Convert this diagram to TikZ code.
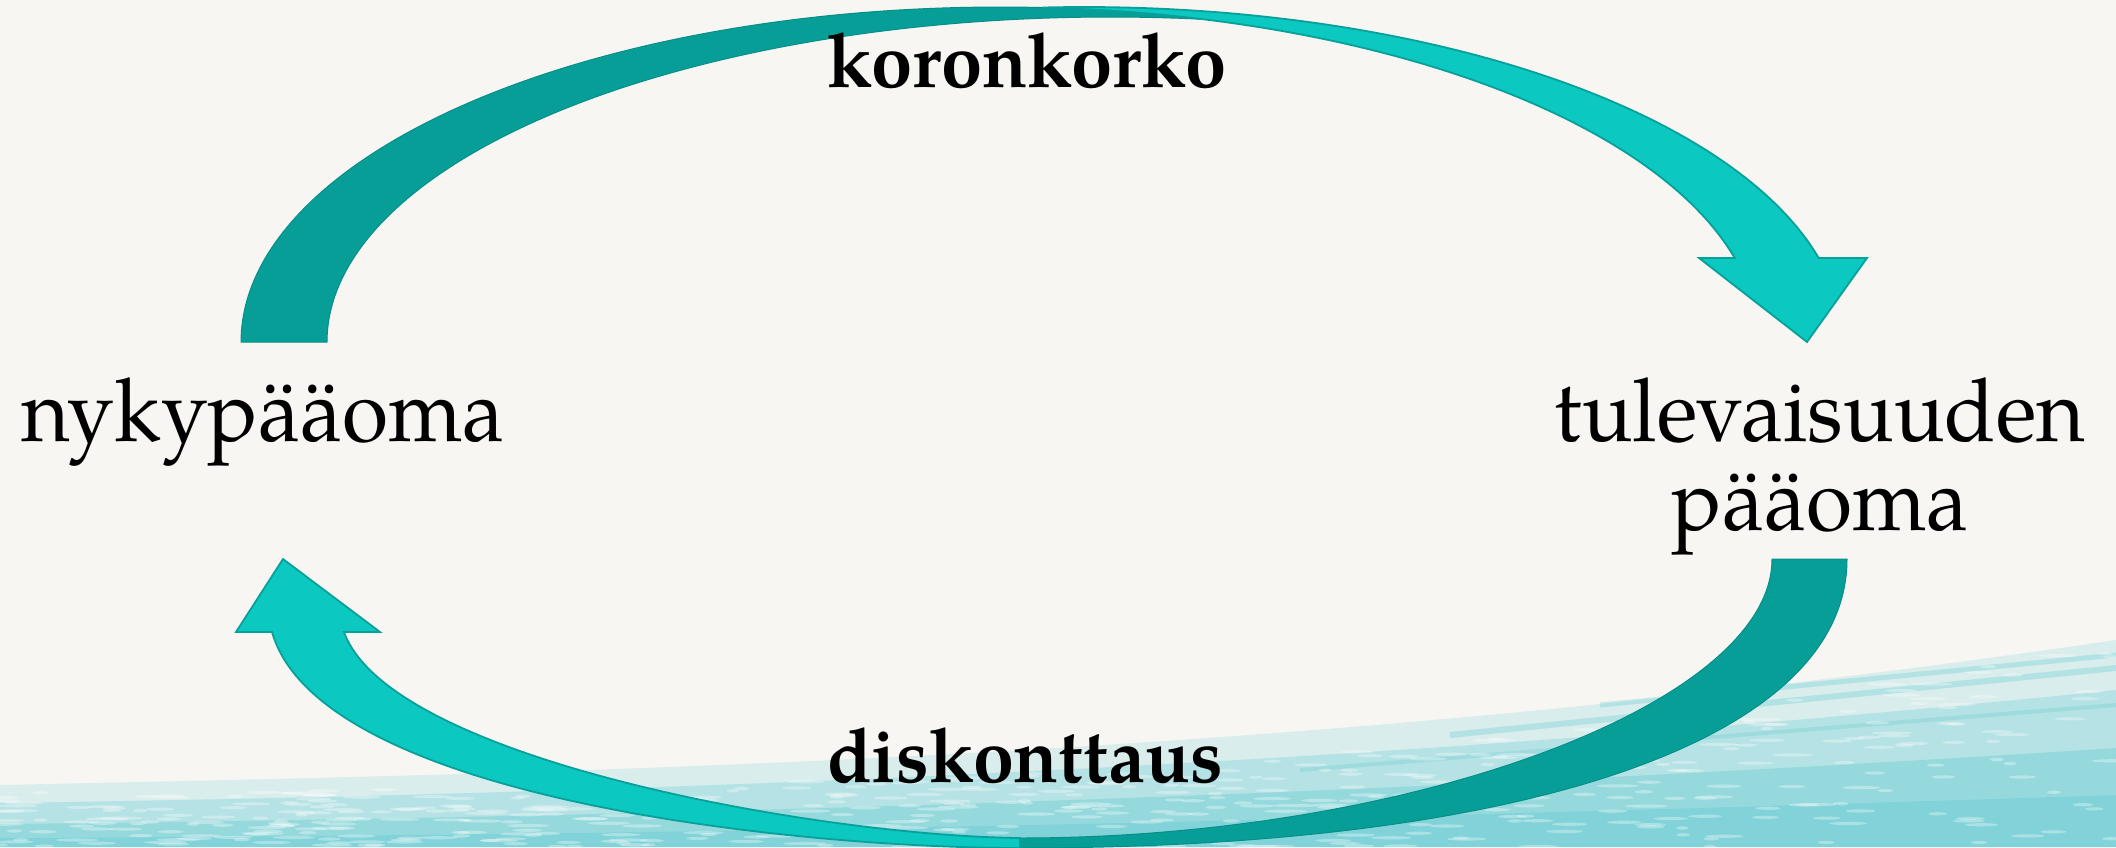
\documentclass[tikz,border=0pt]{standalone}
\usepackage{graphicx}
\usepackage{fontspec}
\setmainfont{texgyrepagella}[Extension=.otf,UprightFont=*-regular,BoldFont=*-bold]
\definecolor{paper}{HTML}{F8F6F3}
\definecolor{tealdark}{HTML}{089E98}
\definecolor{tealdarkline}{HTML}{078E89}
\definecolor{teallight}{HTML}{0BC8C0}
\definecolor{teallightline}{HTML}{08A09A}
\definecolor{wc}{HTML}{4EC6CF}
\tikzset{
  darkband/.style={fill=tealdark, draw=tealdarkline, line width=0.5pt, line join=round},
  lightband/.style={fill=teallight, draw=teallightline, line width=0.9pt, line join=miter},
  lbl/.style={inner sep=0pt, anchor=base, font=\fontsize{44}{44.5}\selectfont},
  bl/.style={inner sep=0pt, anchor=base, font=\fontsize{38}{40}\selectfont\bfseries},
  wash/.style={fill=wc, draw=none}
}
\begin{document}
\begin{tikzpicture}[x=0.5pt,y=-0.5pt]
\useasboundingbox (0,0) rectangle (2116,847);
\fill[paper] (0,0) rectangle (2116,847);
% watercolor strip
\fill[wash, opacity=0.18] (0,785) .. controls (600,772) and (1300,760) .. (2116,640) -- (2116,847) -- (0,847) -- cycle;
\fill[wash, opacity=0.26] (0,803) .. controls (700,793) and (1400,763) .. (2116,690) -- (2116,847) -- (0,847) -- cycle;
\fill[wash, opacity=0.30] (0,824) .. controls (800,816) and (1500,788) .. (2116,748) -- (2116,847) -- (0,847) -- cycle;
\fill[wash, opacity=0.28] (0,838) .. controls (800,835) and (1500,815) .. (2116,795) -- (2116,847) -- (0,847) -- cycle;
\draw[wc, opacity=0.28, line width=3pt] (1450,735) -- (2116,668);
\draw[wc, opacity=0.28, line width=2.5pt] (1600,705) -- (2116,655);
\draw[wc, opacity=0.22, line width=2pt] (1300,770) -- (2116,705);
\pgfmathsetseed{7}
\foreach \i in {1,...,500}{
  \pgfmathsetmacro{\xx}{rnd*2116}
  \pgfmathsetmacro{\yb}{790-150*(\xx/2116)*(\xx/2116)*(\xx/2116)}
  \pgfmathsetmacro{\yy}{\yb+rnd*(847-\yb)}
  \pgfmathsetmacro{\ll}{6+rnd*16}
  \fill[white, opacity=0.33] (\xx,\yy) ellipse ({\ll} and 1.6);
}
% top arrow (koronkorko)
\filldraw[darkband]
  plot[domain=180:74.33,samples=100,variable=\t] ({1000+759*cos(\t)},{342-335*sin(\t)})
  -- plot[domain=83.03:180,samples=100,variable=\t] ({1110+783*cos(\t)},{342-325*sin(\t)})
  -- cycle;
\filldraw[lightband]
  plot[domain=93.17:14.52,samples=90,variable=\t] ({1084+759*cos(\t)},{342-335*sin(\t)})
  -- (1867,258) coordinate (tipR1) -- (1807,342) coordinate (tipR) -- (1699,258) coordinate (tipR2)
  -- plot[domain=14.52:86.83,samples=90,variable=\t] ({1000+759*cos(\t)},{342-335*sin(\t)})
  -- cycle;
% bottom arrow (diskonttaus)
\coordinate (bo) at (1020,848);
\coordinate (bi) at (1020,838);
\filldraw[darkband]
  (1847,559) .. controls (1847,738) and (1533,848) .. (bo)
  -- (bi) .. controls (1411,838) and (1772,704) .. (1772,559) -- cycle;
\filldraw[lightband]
  (bo) .. controls (800,848) and (320,800) .. (272,632)
  -- (236,632) coordinate (tipL1) -- (283,559) coordinate (tipL) -- (380,632) coordinate (tipL2)
  -- (344,632) .. controls (390,760) and (820,836) .. (bi) -- cycle;
% labels
\node[lbl] (now) at (263,441) {\scalebox{0.955}[1]{nykypääoma}};
\node[lbl] (fut) at (1820,441) {\scalebox{0.955}[1]{\begin{tabular}[t]{@{}c@{}}tulevaisuuden\\pääoma\end{tabular}}};
\node[bl] (kk) at (1027,87) {\resizebox{200pt}{\height}{koronkorko}};
\node[bl] (disk) at (1025,782) {\resizebox{198pt}{\height}{diskonttaus}};
\end{tikzpicture}
\end{document}
